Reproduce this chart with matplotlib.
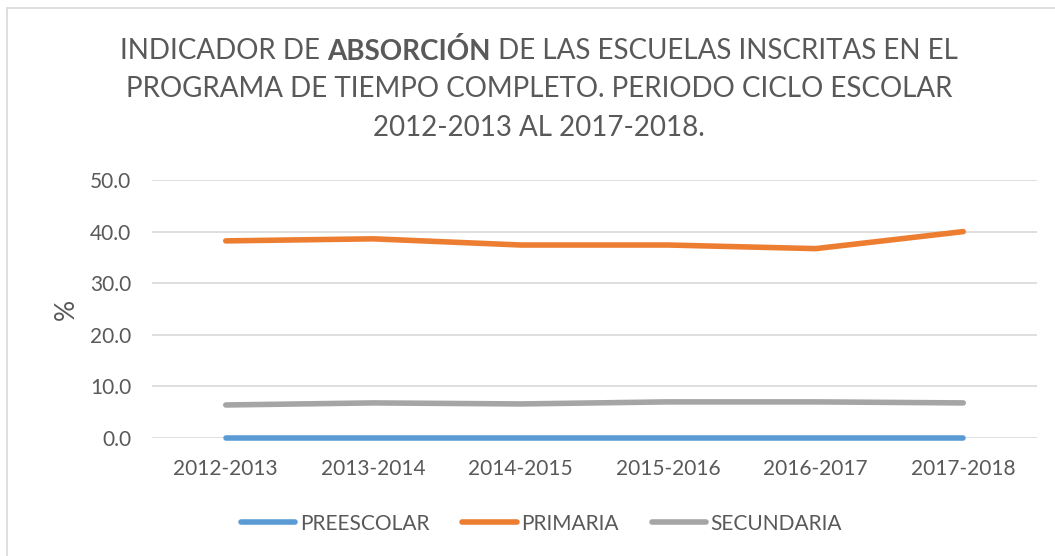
import matplotlib
matplotlib.use("Agg")
import matplotlib.pyplot as plt
from matplotlib.patches import Rectangle

ciclos = ["2012-2013", "2013-2014", "2014-2015", "2015-2016", "2016-2017", "2017-2018"]
preescolar = [0.0, 0.0, 0.0, 0.0, 0.0, 0.0]
primaria = [38.2, 38.6, 37.4, 37.4, 36.7, 40.0]
secundaria = [6.4, 6.8, 6.6, 7.0, 7.0, 6.8]
yticks = [0, 10, 20, 30, 40, 50]

TXT = "#595959"
FONT = ["Lato", "DejaVu Sans"]
plt.rcParams["font.family"] = FONT

W, H = 1055, 556
fig = plt.figure(figsize=(W / 100, H / 100), dpi=100)
fig.patch.set_facecolor("white")
fig.patches.append(Rectangle((7 / W, -0.01), 1.2, 1 - 8 / H + 0.01, transform=fig.transFigure,
                             fill=False, edgecolor="#D9D9D9", lw=1.2))

ax = fig.add_axes([152 / W, (H - 438) / H, (1037 - 152) / W, 258 / H])
x = list(range(len(ciclos)))
ax.plot(x, preescolar, color="#5B9BD5", lw=4, solid_capstyle="round", label="PREESCOLAR", clip_on=False)
ax.plot(x, primaria, color="#ED7D31", lw=4, solid_capstyle="round", label="PRIMARIA")
ax.plot(x, secundaria, color="#A5A5A5", lw=4, solid_capstyle="round", label="SECUNDARIA")
ax.set_xlim(-0.5, len(ciclos) - 0.5)
ax.set_ylim(0, 50)
ax.set_yticks(yticks)
ax.set_yticklabels([f"{v:.1f}" for v in yticks], fontsize=15, color=TXT)
ax.set_xticks(x)
ax.set_xticklabels(ciclos, fontsize=15, color=TXT)
ax.tick_params(axis="y", length=0, pad=15)
ax.tick_params(axis="x", length=0, pad=15)
ax.grid(axis="y", color="#D9D9D9", lw=1.2)
ax.set_axisbelow(True)
for s in ax.spines.values():
    s.set_visible(False)
ax.set_ylabel("%", fontsize=19, color=TXT, labelpad=8)

leg = ax.legend(loc="upper center", bbox_to_anchor=(0.44, -0.22), ncol=3, frameon=False,
                prop={"size": 15}, handlelength=2.6, handletextpad=0.2,
                columnspacing=1.6)
for t in leg.get_texts():
    t.set_color(TXT)

# titulo en tres lineas, con la palabra ABSORCIÓN en negrita
cx = 539 / W
lines = [
    [("INDICADOR DE ", "normal"), ("ABSORCIÓN", "bold"), (" DE LAS ESCUELAS INSCRITAS EN EL", "normal")],
    [("PROGRAMA DE TIEMPO COMPLETO. PERIODO CICLO ESCOLAR", "normal")],
    [("2012-2013 AL 2017-2018.", "normal")],
]
ys = [51, 89, 128]
renderer = fig.canvas.get_renderer()
for parts, yy in zip(lines, ys):
    texts = []
    for s, w in parts:
        t = fig.text(0, 1 - yy / H, s, fontsize=20, color=TXT, weight=w,
                     va="center", ha="left")
        texts.append(t)
    widths = [t.get_window_extent(renderer).width for t in texts]
    x0 = cx * W - sum(widths) / 2
    for t, wd in zip(texts, widths):
        t.set_x(x0 / W)
        x0 += wd

fig.savefig("out.png", dpi=100, facecolor="white")
